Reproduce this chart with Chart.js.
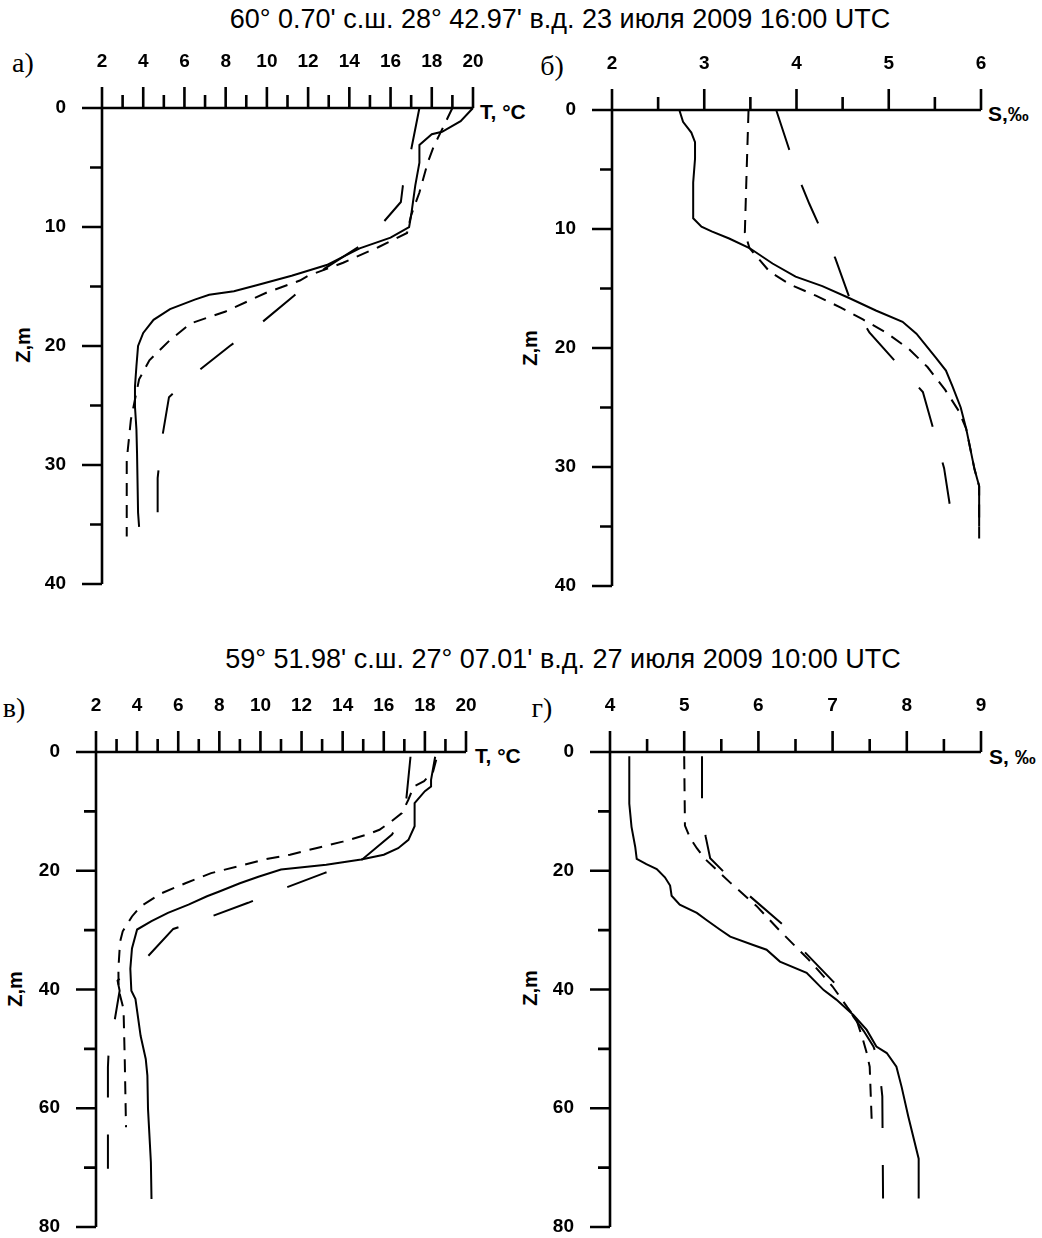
<!DOCTYPE html>
<html>
<head>
<meta charset="utf-8">
<script src="https://cdn.jsdelivr.net/npm/chart.js"></script>
<style>
  body { margin: 0; background: #fff; overflow: hidden; }
  #page { position: relative; width: 1042px; height: 1238px; overflow: hidden; background: #fff; }
  canvas { position: absolute; }
  .txt { position: absolute; white-space: nowrap; line-height: 1; color: #000; font-family: "Liberation Sans", Arial, sans-serif; }
  .title { font-size: 27px; transform: translate(-50%, -50%); }
  .lbl { font-family: "Liberation Serif", "Times New Roman", serif; font-size: 28px; transform: translate(-50%, -50%); }
  .axn { font-weight: bold; font-size: 21px; transform: translate(0, -50%); }
  .zn { font-weight: bold; font-size: 20px; transform: translate(-50%, -50%) rotate(-90deg); }
</style>
</head>
<body>
<div id="page">
  <div class="txt title" style="left:560px;top:19px">60° 0.70' с.ш. 28° 42.97' в.д. 23 июля 2009 16:00 UTC</div>
  <div class="txt title" style="left:563px;top:659px">59° 51.98' с.ш. 27° 07.01' в.д. 27 июля 2009 10:00 UTC</div>

  <div class="txt lbl" style="left:23px;top:63px">а)</div>
  <div class="txt lbl" style="left:552px;top:66px">б)</div>
  <div class="txt lbl" style="left:14px;top:708px">в)</div>
  <div class="txt lbl" style="left:542px;top:708px">г)</div>

  <div class="txt axn" style="left:480px;top:111px">T, °C</div>
  <div class="txt axn" style="left:988px;top:113px">S,‰</div>
  <div class="txt axn" style="left:475px;top:755px">T, °C</div>
  <div class="txt axn" style="left:989px;top:756px">S, ‰</div>

  <div class="txt zn" style="left:23px;top:345px">Z,m</div>
  <div class="txt zn" style="left:530px;top:348px">Z,m</div>
  <div class="txt zn" style="left:15px;top:989px">Z,m</div>
  <div class="txt zn" style="left:530px;top:988px">Z,m</div>

  <canvas id="chartA"></canvas>
  <canvas id="chartB"></canvas>
  <canvas id="chartC"></canvas>
  <canvas id="chartD"></canvas>
</div>

<script>
// а) температура, станция 1 (z в м, T в °C)
const zA1 = [0, 1.1, 2.0, 2.2, 3.1, 4.6, 6.5, 9.0, 10.0, 10.9, 11.8, 13.2, 14.1, 14.9, 15.4, 15.7, 16.1, 16.9, 17.8, 18.9, 20, 21.7, 23.4, 25.1, 27, 29, 34, 35.2];
const tA1 = [20.0, 19.4, 18.5, 18.0, 17.4, 17.4, 17.2, 17.0, 16.9, 16.0, 14.5, 12.9, 11.2, 9.5, 8.4, 7.2, 6.5, 5.3, 4.5, 4.0, 3.75, 3.67, 3.6, 3.6, 3.67, 3.7, 3.75, 3.8];
const zA2 = [0, 1.8, 3.2, 4.6, 7.1, 9.0, 10.5, 11.7, 13.0, 14.1, 14.5, 15.5, 17.1, 18.1, 19.5, 21.2, 22.8, 24.5, 26.2, 29.6, 36];
const tA2 = [19.0, 18.5, 18.1, 17.8, 17.4, 17.0, 16.8, 15.4, 13.7, 12.0, 11.6, 10.0, 8.0, 6.3, 5.3, 4.3, 3.8, 3.6, 3.4, 3.2, 3.2];
const zA3 = [0, 3.5, 6.5, 7.9, 9.5, 11.5, 13.5, 15.8, 18.1, 20, 22.2, 24.3, 27.9, 31.1, 34.6];
const tA3 = [17.4, 17.0, 16.6, 16.5, 15.7, 14.6, 12.8, 11.3, 9.7, 8.2, 6.6, 5.25, 4.9, 4.7, 4.7];

// б) солёность, станция 1 (S в ‰)
const zB1 = [0, 1, 1.9, 2.7, 4.1, 6.1, 9.1, 9.8, 10.2, 10.8, 11.6, 12.9, 14, 14.8, 15.8, 16.85, 17.8, 18.8, 20.8, 21.9, 23.2, 25, 26.8, 30.2, 31.6, 35];
const sB1 = [2.73, 2.77, 2.86, 2.9, 2.9, 2.88, 2.88, 2.97, 3.08, 3.27, 3.49, 3.74, 3.99, 4.28, 4.57, 4.86, 5.15, 5.30, 5.51, 5.62, 5.69, 5.78, 5.84, 5.93, 5.98, 5.98];
const zB2 = [0, 5, 10.3, 11.6, 13.6, 14.7, 15.6, 16.6, 17.6, 18.7, 20.1, 21.6, 23.5, 25.3, 26.8, 30.2, 31.6, 36];
const sB2 = [3.48, 3.46, 3.44, 3.49, 3.71, 3.94, 4.21, 4.48, 4.72, 4.97, 5.22, 5.42, 5.61, 5.76, 5.84, 5.93, 5.98, 5.98];
const zB3 = [0, 3.3, 6.4, 7.9, 9.8, 12.45, 15.9, 18.7, 21.2, 23.7, 27, 30.1, 33.6];
const sB3 = [3.78, 3.92, 4.06, 4.14, 4.25, 4.42, 4.58, 4.79, 5.08, 5.37, 5.49, 5.6, 5.67];

// в) температура, станция 2
const zC1 = [0.8, 4.7, 5.8, 6.6, 8.6, 12.5, 14.8, 16.2, 17.3, 18.1, 19.0, 19.8, 21, 22.1, 23.5, 24.3, 25.7, 27.1, 28.5, 29.9, 33.1, 36.5, 40.2, 41.6, 47.8, 51.7, 54.5, 60.1, 69.1, 75.3];
const tC1 = [18.5, 18.3, 18.3, 18.0, 17.5, 17.5, 17.2, 16.7, 16.0, 14.9, 13.2, 11.0, 9.9, 9.0, 8.0, 7.4, 6.5, 5.5, 4.7, 4.0, 3.75, 3.67, 3.72, 3.92, 4.17, 4.42, 4.5, 4.53, 4.67, 4.7];
const zC2 = [1.3, 3.3, 4.9, 5.8, 8.0, 10.3, 11.7, 13.1, 13.9, 15.1, 16.2, 17.3, 18.1, 19.3, 20.4, 22.1, 23.8, 26, 27.7, 30.2, 32, 36.5, 40, 43.3, 52, 63.2];
const tC2 = [18.55, 18.4, 17.96, 17.46, 17.2, 16.88, 16.37, 15.79, 15.2, 14.0, 12.7, 11.44, 10.19, 8.85, 7.6, 6.35, 5.18, 4.17, 3.75, 3.3, 3.17, 3.09, 3.1, 3.34, 3.4, 3.46];
const zC3 = [0.8, 7.8, 11, 13.9, 18.1, 20.4, 22.9, 25.4, 27.7, 29.8, 34.8, 37, 38.5, 40.2, 46.6, 50, 53.1, 70.2];
const tC3 = [17.3, 17.1, 16.9, 16.4, 14.95, 13.1, 11.2, 9.4, 7.6, 5.76, 4.42, 3.5, 3.05, 3.15, 2.84, 2.62, 2.58, 2.58];

// г) солёность, станция 2
const zD1 = [0.7, 8.7, 12.6, 16, 18, 18.9, 19.7, 21.1, 22.5, 24.2, 25.7, 27.1, 28.3, 29.9, 31.1, 32.5, 33.3, 35.3, 37.2, 40.1, 41.7, 44.3, 46.8, 49.6, 50.7, 53, 56.4, 61.4, 68.5, 75.2];
const sD1 = [4.26, 4.26, 4.29, 4.34, 4.36, 4.49, 4.63, 4.74, 4.81, 4.83, 4.94, 5.17, 5.3, 5.48, 5.62, 5.93, 6.11, 6.29, 6.65, 6.88, 7.05, 7.28, 7.46, 7.59, 7.73, 7.86, 7.93, 8.02, 8.16, 8.16];
const zD2 = [0.7, 12.4, 14.5, 16.2, 18, 22, 26, 30, 35, 39.5, 43, 45, 48.5, 50.7, 53, 56.4, 63.1];
const sD2 = [5.0, 5.01, 5.08, 5.17, 5.28, 5.62, 5.98, 6.28, 6.68, 7.0, 7.2, 7.32, 7.41, 7.46, 7.5, 7.51, 7.53];
const zD3 = [0.7, 7.8, 12, 14.3, 17.9, 22.4, 23.8, 29.2, 31.7, 39.6, 41, 44.6, 47, 49.6, 52, 58, 75.2];
const sD3 = [5.24, 5.24, 5.26, 5.29, 5.35, 5.71, 5.84, 6.34, 6.47, 7.08, 7.12, 7.28, 7.42, 7.55, 7.62, 7.67, 7.68];

const SHORT_DASH = [13, 9];
const LONG_DASH = [42, 37];

// оси: длинные штрихи у подписанных значений, короткие между ними
const profileAxes = {
    id: 'profileAxes',
    afterDraw(chart) {
        const { ctx, scales: { x, y } } = chart;
        const x0 = x.left, y0 = y.top;
        ctx.save();
        ctx.strokeStyle = '#000';
        ctx.lineWidth = 2.6;
        ctx.beginPath();
        ctx.moveTo(x0 - 20, y0); ctx.lineTo(x.right, y0);
        ctx.moveTo(x0, y0 - 21); ctx.lineTo(x0, y.bottom);
        x.ticks.forEach(t => {
            const px = x.getPixelForValue(t.value);
            ctx.moveTo(px, y0); ctx.lineTo(px, y0 - (t.label !== '' ? 21 : 13));
        });
        y.ticks.forEach(t => {
            const py = y.getPixelForValue(t.value);
            ctx.moveTo(x0, py); ctx.lineTo(x0 - (t.label !== '' ? 20 : 12), py);
        });
        ctx.stroke();
        ctx.restore();
    }
};

function pts(xs, zs) { return zs.map((z, i) => ({ x: xs[i], y: z })); }

function line(xs, zs, dash) {
    return {
        data: pts(xs, zs),
        borderColor: '#000',
        borderWidth: 2,
        borderDash: dash,
        pointRadius: 0,
        tension: 0,
        fill: false,
        clip: false
    };
}

const tickFont = { family: '"Liberation Sans", Arial, sans-serif', size: 19, weight: 'bold' };

// box — холст на странице, plot — область построения (координаты страницы)
function makePanel(id, box, plot, xs, ys, datasets) {
    const canvas = document.getElementById(id);
    canvas.width = box.w;
    canvas.height = box.h;
    canvas.style.left = box.x + 'px';
    canvas.style.top = box.y + 'px';
    new Chart(canvas, {
        type: 'line',
        data: { datasets: datasets },
        options: {
            responsive: false,
            animation: false,
            events: [],
            layout: { padding: { left: 0, top: 0, right: box.x + box.w - plot.r, bottom: box.y + box.h - plot.b } },
            plugins: { legend: { display: false }, tooltip: { enabled: false } },
            scales: {
                x: {
                    type: 'linear', position: 'top',
                    min: xs.min, max: xs.max,
                    grid: { display: false }, border: { display: false },
                    ticks: {
                        stepSize: xs.step, autoSkip: false, maxRotation: 0,
                        color: '#000', font: tickFont, padding: 27,
                        callback: v => (Math.abs(v / xs.label - Math.round(v / xs.label)) < 1e-6 ? v : '')
                    },
                    afterFit: s => { s.height = plot.t - box.y; }
                },
                y: {
                    type: 'linear', reverse: true,
                    min: 0, max: ys.max,
                    grid: { display: false }, border: { display: false },
                    ticks: {
                        stepSize: ys.step, autoSkip: false,
                        color: '#000', font: tickFont, padding: 28,
                        callback: v => (v % ys.label === 0 ? v : '')
                    },
                    afterFit: s => { s.width = plot.l - box.x; }
                }
            }
        },
        plugins: [profileAxes]
    });
}

makePanel('chartA', { x: 0, y: 40, w: 521, h: 592 }, { l: 102, t: 108, r: 473, b: 584 },
    { min: 2, max: 20, step: 1, label: 2 }, { max: 40, step: 5, label: 10 },
    [line(tA1, zA1, []), line(tA2, zA2, SHORT_DASH), line(tA3, zA3, LONG_DASH)]);

makePanel('chartB', { x: 521, y: 40, w: 521, h: 594 }, { l: 612, t: 110, r: 981, b: 586 },
    { min: 2, max: 6, step: 0.5, label: 1 }, { max: 40, step: 5, label: 10 },
    [line(sB1, zB1, []), line(sB2, zB2, SHORT_DASH), line(sB3, zB3, LONG_DASH)]);

makePanel('chartC', { x: 0, y: 680, w: 521, h: 596 }, { l: 96, t: 752, r: 466, b: 1227 },
    { min: 2, max: 20, step: 1, label: 2 }, { max: 80, step: 10, label: 20 },
    [line(tC1, zC1, []), line(tC2, zC2, SHORT_DASH), line(tC3, zC3, LONG_DASH)]);

makePanel('chartD', { x: 521, y: 680, w: 521, h: 596 }, { l: 610, t: 752, r: 981, b: 1227 },
    { min: 4, max: 9, step: 0.5, label: 1 }, { max: 80, step: 10, label: 20 },
    [line(sD1, zD1, []), line(sD2, zD2, SHORT_DASH), line(sD3, zD3, LONG_DASH)]);
</script>
</body>
</html>
